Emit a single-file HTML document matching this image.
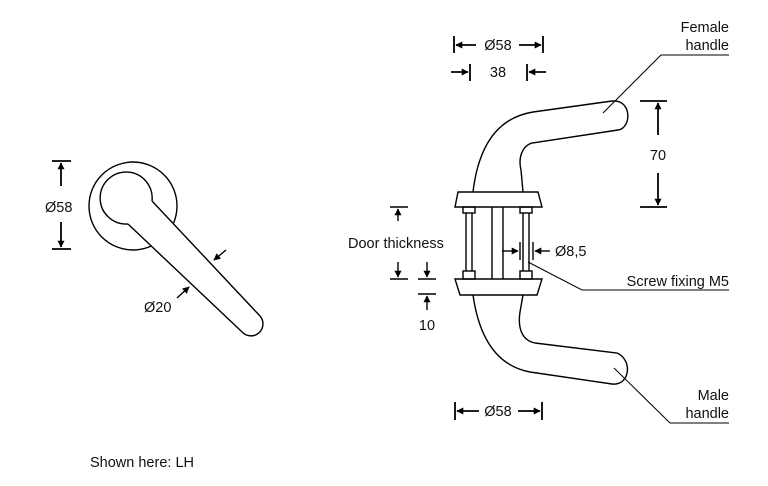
<!DOCTYPE html>
<html><head><meta charset="utf-8"><style>
html,body{margin:0;padding:0;background:#fff;}
svg{display:block;}
text{font-family:"Liberation Sans",sans-serif;font-size:14.5px;fill:#111;}
</style></head><body>
<svg width="768" height="486" viewBox="0 0 768 486" xmlns="http://www.w3.org/2000/svg">
<defs>
<marker id="a" viewBox="0 0 10 10" refX="9" refY="5" markerWidth="7" markerHeight="7" orient="auto-start-reverse" markerUnits="userSpaceOnUse"><path d="M0,0 L10,5 L0,10 z" fill="#000"/></marker>
</defs>
<g fill="none" stroke="#000" stroke-width="1.4">
<!-- left rose -->
<circle cx="133" cy="206" r="44"/>
<path d="M152,201 L260,316 A12,12 0 0 1 242.5,332.4 L128,224" fill="#fff"/>
<path d="M152,201 A26,26 0 1 0 128,224"/>
<!-- left dims -->
<line x1="52" y1="161" x2="71" y2="161" stroke-width="1.8"/>
<line x1="52" y1="249" x2="71" y2="249" stroke-width="1.8"/>
<line x1="61" y1="186" x2="61" y2="163" marker-end="url(#a)" stroke-width="1.8"/>
<line x1="61" y1="222" x2="61" y2="247" marker-end="url(#a)" stroke-width="1.8"/>
<line x1="226" y1="250" x2="214" y2="260" marker-end="url(#a)"/>
<line x1="177" y1="298" x2="189" y2="287" marker-end="url(#a)"/>
<!-- female handle -->
<path d="M473,192 C478,150 495,118 533,112 L612,101 C632,99 632,128 618,130 L532,143 C522,146 518,158 521,170 L523,192"/>
<!-- male handle -->
<path d="M473,295 C478,330 492,365 530,372 L612,384 C630,386 633,360 617,353 L535,343 C520,340 518,325 520,312 L523,295"/>
<!-- roses -->
<path d="M458,192 L538,192 L542,207 L455,207 Z"/>
<path d="M455,279 L542,279 L537,295 L460,295 Z"/>
<rect x="463" y="207" width="12" height="6"/>
<rect x="463" y="271" width="12" height="8"/>
<rect x="520" y="207" width="12" height="6"/>
<rect x="520" y="271" width="12" height="8"/>
<line x1="466" y1="213" x2="466" y2="271"/><line x1="472" y1="213" x2="472" y2="271"/>
<line x1="523" y1="213" x2="523" y2="271"/><line x1="529" y1="213" x2="529" y2="271"/>
<line x1="492" y1="207" x2="492" y2="279"/><line x1="503" y1="207" x2="503" y2="279"/>
<!-- top dims -->
<line x1="454" y1="36" x2="454" y2="53" stroke-width="1.8"/>
<line x1="543" y1="36" x2="543" y2="53" stroke-width="1.8"/>
<line x1="476" y1="45" x2="456" y2="45" marker-end="url(#a)" stroke-width="1.8"/>
<line x1="519" y1="45" x2="541" y2="45" marker-end="url(#a)" stroke-width="1.8"/>
<line x1="470" y1="64" x2="470" y2="81" stroke-width="1.8"/>
<line x1="527" y1="64" x2="527" y2="81" stroke-width="1.8"/>
<line x1="451" y1="72" x2="468" y2="72" marker-end="url(#a)" stroke-width="1.8"/>
<line x1="546" y1="72" x2="529" y2="72" marker-end="url(#a)" stroke-width="1.8"/>
<!-- 70 -->
<line x1="640" y1="101" x2="667" y2="101" stroke-width="1.8"/>
<line x1="640" y1="207" x2="667" y2="207" stroke-width="1.8"/>
<line x1="658" y1="135" x2="658" y2="103" marker-end="url(#a)" stroke-width="1.8"/>
<line x1="658" y1="173" x2="658" y2="205" marker-end="url(#a)" stroke-width="1.8"/>
<!-- door thickness -->
<line x1="390" y1="207" x2="408" y2="207" stroke-width="1.4"/>
<line x1="390" y1="279" x2="408" y2="279" stroke-width="1.4"/>
<line x1="398" y1="221" x2="398" y2="209" marker-end="url(#a)"/>
<line x1="398" y1="262" x2="398" y2="277" marker-end="url(#a)"/>
<line x1="418" y1="279" x2="436" y2="279"/>
<line x1="418" y1="294" x2="436" y2="294"/>
<line x1="427" y1="262" x2="427" y2="277" marker-end="url(#a)"/>
<line x1="427" y1="310" x2="427" y2="296" marker-end="url(#a)"/>
<!-- 8,5 -->
<line x1="520" y1="242" x2="520" y2="260"/>
<line x1="533" y1="242" x2="533" y2="260"/>
<line x1="502" y1="251" x2="518" y2="251" marker-end="url(#a)"/>
<line x1="550" y1="251" x2="535" y2="251" marker-end="url(#a)"/>
<!-- bottom dim -->
<line x1="455" y1="402" x2="455" y2="420" stroke-width="1.8"/>
<line x1="542" y1="402" x2="542" y2="420" stroke-width="1.8"/>
<line x1="479" y1="411" x2="457" y2="411" marker-end="url(#a)" stroke-width="1.8"/>
<line x1="518" y1="411" x2="540" y2="411" marker-end="url(#a)" stroke-width="1.8"/>
<!-- leaders -->
<polyline points="603,113 661,55 729,55" stroke-width="1"/>
<polyline points="528,262 582,290 729,290" stroke-width="1"/>
<polyline points="614,368 670,423 729,423" stroke-width="1"/>
</g>
<text x="45" y="212">Ø58</text>
<text x="144" y="312">Ø20</text>
<text x="498" y="50" text-anchor="middle">Ø58</text>
<text x="498" y="77" text-anchor="middle">38</text>
<text x="658" y="160" text-anchor="middle">70</text>
<text x="348" y="248">Door thickness</text>
<text x="427" y="330" text-anchor="middle">10</text>
<text x="555" y="256">Ø8,5</text>
<text x="498" y="416" text-anchor="middle">Ø58</text>
<text x="729" y="32" text-anchor="end">Female</text>
<text x="729" y="50" text-anchor="end">handle</text>
<text x="729" y="286" text-anchor="end">Screw fixing M5</text>
<text x="729" y="400" text-anchor="end">Male</text>
<text x="729" y="418" text-anchor="end">handle</text>
<text x="90" y="467">Shown here: LH</text>
</svg>
</body></html>
